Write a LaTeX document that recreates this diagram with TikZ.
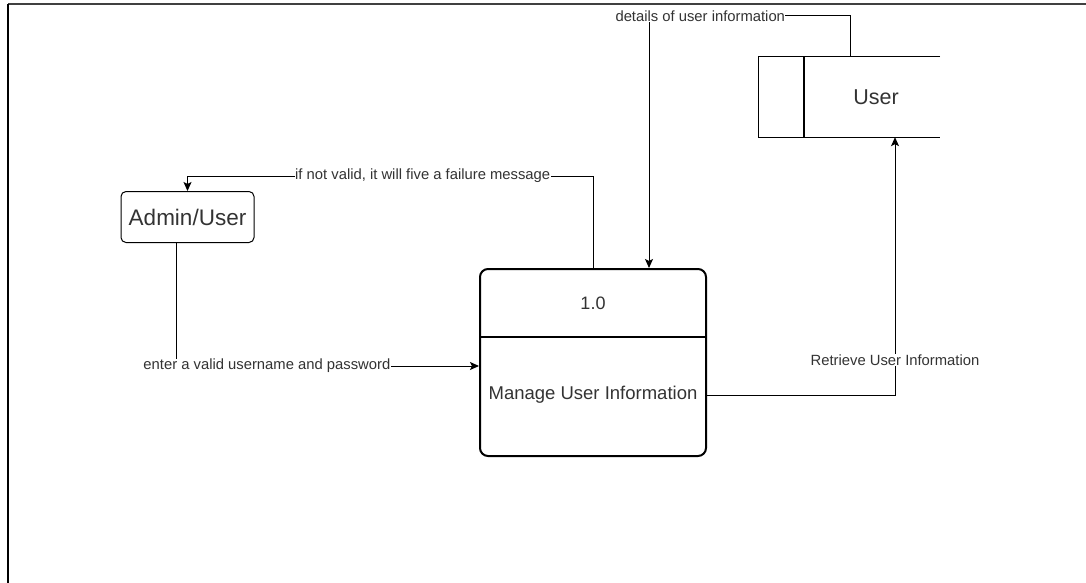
\documentclass[tikz,border=0pt]{standalone}
\usepackage{fontspec}
\setmainfont{Liberation Sans}
\usetikzlibrary{arrows.meta}
\definecolor{txt}{RGB}{51,51,51}
\tikzset{
  lbl/.style={fill=white, inner sep=0.5pt, text=txt, font=\fontsize{14.8}{16}\selectfont},
  conn/.style={draw=black, line width=1pt},
  arr/.style={conn, -{Stealth[length=9pt,width=8pt,inset=2pt]}},
  mainfont/.style={text=txt}
}
\begin{document}
\begin{tikzpicture}[x=1pt,y=-1pt]
\useasboundingbox (0,0) rectangle (1086,583);
% frame
\draw[line width=1.6pt, black!75] (8,4) -- (1086,4);
\draw[line width=2pt, black] (8,4) -- (8,583);

% Admin/User
\node[draw, line width=1pt, rounded corners=5pt, minimum width=133pt, minimum height=51pt, inner sep=0pt, mainfont, font=\fontsize{22.5}{24}\selectfont] (admin) at (187.5,217) {Admin/User};

% process
\node[draw, line width=2pt, rounded corners=8pt, minimum width=226pt, minimum height=187pt, inner sep=0pt] (proc) at (593,362.5) {};
\draw[line width=2pt] (proc.west |- 0,337) -- (proc.east |- 0,337);
\node[mainfont, font=\fontsize{18}{20}\selectfont] (pnum) at (593,303) {1.0};
\node[mainfont, font=\fontsize{18.5}{20}\selectfont] (pname) at (593,395) {Manage User Information};

% data store
\node[minimum width=181pt, minimum height=80pt, inner sep=0pt] (store) at (849.5,97) {};
\draw[line width=1.3pt] (store.north east) -- (store.north west) -- (store.south west) -- (store.south east);
\draw[line width=1.3pt] (804,57) -- (804,137);
\node[mainfont, font=\fontsize{21.5}{24}\selectfont] (stext) at (876,97) {User};

% connectors
\draw[arr] (proc.north) -- (proc.north |- 0,176) -- node[lbl, pos=0.42] {if not valid, it will five a failure message} (admin.north |- 0,176) -- (admin.north);
\coordinate (adm) at (176,242);
\draw[arr] (adm) -- (176,366) -- node[lbl, pos=0.30] {enter a valid username and password} (proc.west |- 0,366);
\draw[arr] (proc.east |- 0,395) -- (895,395) -- node[lbl, pos=0.136] {Retrieve User Information} (store.south -| 895,0);
\draw[arr] (store.north -| 850,0) -- (850,16) -- node[lbl, pos=0.745] {details of user information} (649,16) -- (proc.north -| 649,0);
\end{tikzpicture}
\end{document}
